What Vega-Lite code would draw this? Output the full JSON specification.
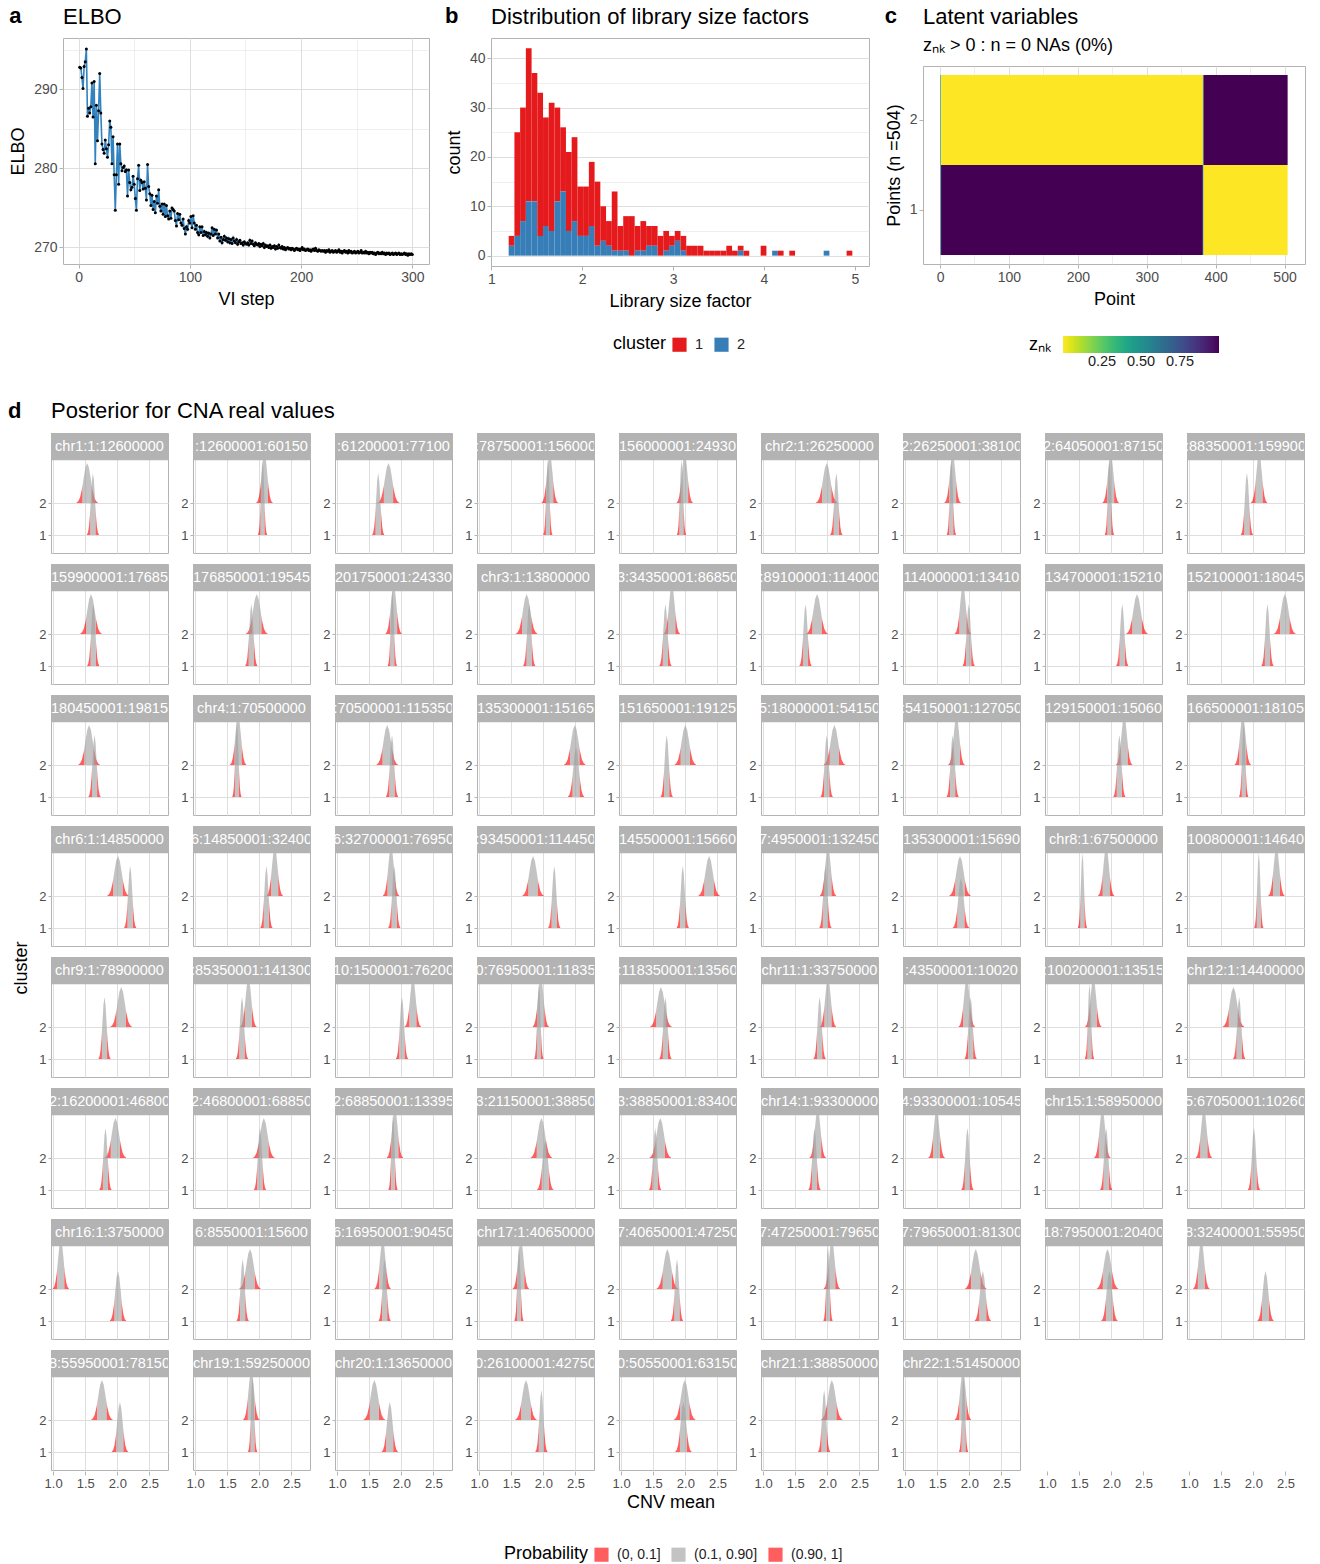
{
"$schema": "https://vega.github.io/schema/vega-lite/v6.json",
"background": "white",
"padding": {"left": 8, "top": 4, "right": 5, "bottom": 0},
"config": {
 "font": "Liberation Sans",
 "view": {"stroke": "#B3B3B3", "strokeWidth": 1},
 "axis": {"domain": false, "tickColor": "#B3B3B3", "tickSize": 4, "labelColor": "#4D4D4D", "labelFontSize": 14, "labelPadding": 2, "titleColor": "#000000", "titleFontSize": 18, "titleFontWeight": "normal", "titlePadding": 6, "gridColor": "#DEDEDE", "labelFlush": false, "labelOverlap": false},
 "legend": {"labelFontSize": 14.5, "labelColor": "#222222", "titleFontSize": 18, "titleFontWeight": "normal", "titleColor": "#000000"},
 "header": {"labels": false, "labelExpr": "''", "labelFontSize": 0, "labelPadding": 0},
 "title": {"color": "#000000", "subtitleColor": "#000000"}
},
"datasets": {
 "elbo": [
{"s":1,"e":292.8},{"s":2,"e":292.7},{"s":3,"e":291.5},{"s":4,"e":290.1},{"s":5,"e":292.9},{"s":6,"e":293.5},{"s":7,"e":295.1},{"s":8,"e":286.6},{"s":9,"e":287.6},{"s":10,"e":287.0},
{"s":11,"e":287.8},{"s":12,"e":290.8},{"s":13,"e":286.5},{"s":14,"e":291.0},{"s":15,"e":280.6},{"s":16,"e":288.0},{"s":17,"e":283.5},{"s":18,"e":287.3},{"s":19,"e":292.0},{"s":20,"e":287.0},
{"s":21,"e":283.1},{"s":22,"e":282.4},{"s":23,"e":281.9},{"s":24,"e":283.6},{"s":25,"e":282.5},{"s":26,"e":281.4},{"s":27,"e":283.0},{"s":28,"e":286.0},{"s":29,"e":285.2},{"s":30,"e":280.6},
{"s":31,"e":284.0},{"s":32,"e":279.2},{"s":33,"e":274.7},{"s":34,"e":279.2},{"s":35,"e":283.1},{"s":36,"e":278.0},{"s":37,"e":283.1},{"s":38,"e":280.6},{"s":39,"e":279.7},{"s":40,"e":280.1},
{"s":41,"e":280.3},{"s":42,"e":279.6},{"s":43,"e":279.8},{"s":44,"e":276.5},{"s":45,"e":279.8},{"s":46,"e":278.2},{"s":47,"e":277.3},{"s":48,"e":277.6},{"s":49,"e":279.0},{"s":50,"e":278.0},
{"s":51,"e":276.2},{"s":52,"e":274.7},{"s":53,"e":278.7},{"s":54,"e":280.4},{"s":55,"e":277.2},{"s":56,"e":278.5},{"s":57,"e":278.2},{"s":58,"e":277.4},{"s":59,"e":278.3},{"s":60,"e":277.5},
{"s":61,"e":276.0},{"s":62,"e":280.5},{"s":63,"e":277.7},{"s":64,"e":276.8},{"s":65,"e":275.3},{"s":66,"e":276.6},{"s":67,"e":274.8},{"s":68,"e":275.8},{"s":69,"e":274.4},{"s":70,"e":276.5},
{"s":71,"e":275.6},{"s":72,"e":277.3},{"s":73,"e":275.2},{"s":74,"e":274.6},{"s":75,"e":275.5},{"s":76,"e":274.2},{"s":77,"e":275.5},{"s":78,"e":273.9},{"s":79,"e":275.3},{"s":80,"e":274.0},
{"s":81,"e":273.6},{"s":82,"e":274.6},{"s":83,"e":273.7},{"s":84,"e":275.0},{"s":85,"e":274.8},{"s":86,"e":274.6},{"s":87,"e":273.4},{"s":88,"e":272.7},{"s":89,"e":274.3},{"s":90,"e":273.5},
{"s":91,"e":274.2},{"s":92,"e":273.1},{"s":93,"e":272.8},{"s":94,"e":273.6},{"s":95,"e":272.4},{"s":96,"e":271.7},{"s":97,"e":272.6},{"s":98,"e":272.3},{"s":99,"e":273.4},{"s":100,"e":273.1},
{"s":101,"e":273.9},{"s":102,"e":272.5},{"s":103,"e":274.0},{"s":104,"e":273.1},{"s":105,"e":272.3},{"s":106,"e":272.8},{"s":107,"e":271.9},{"s":108,"e":271.6},{"s":109,"e":272.6},{"s":110,"e":271.9},
{"s":111,"e":272.6},{"s":112,"e":271.5},{"s":113,"e":272.0},{"s":114,"e":271.6},{"s":115,"e":271.9},{"s":116,"e":271.4},{"s":117,"e":271.8},{"s":118,"e":271.2},{"s":119,"e":271.7},{"s":120,"e":272.5},
{"s":121,"e":271.5},{"s":122,"e":272.3},{"s":123,"e":271.7},{"s":124,"e":272.2},{"s":125,"e":271.2},{"s":126,"e":271.7},{"s":127,"e":270.8},{"s":128,"e":271.3},{"s":129,"e":270.6},{"s":130,"e":271.0},
{"s":131,"e":271.4},{"s":132,"e":270.9},{"s":133,"e":271.2},{"s":134,"e":270.7},{"s":135,"e":271.1},{"s":136,"e":270.6},{"s":137,"e":271.0},{"s":138,"e":270.5},{"s":139,"e":271.2},{"s":140,"e":270.8},
{"s":141,"e":270.6},{"s":142,"e":271.0},{"s":143,"e":270.4},{"s":144,"e":270.7},{"s":145,"e":270.9},{"s":146,"e":270.5},{"s":147,"e":270.6},{"s":148,"e":270.3},{"s":149,"e":270.7},{"s":150,"e":270.5},
{"s":151,"e":270.4},{"s":152,"e":270.6},{"s":153,"e":270.3},{"s":154,"e":270.9},{"s":155,"e":270.5},{"s":156,"e":270.8},{"s":157,"e":270.4},{"s":158,"e":270.2},{"s":159,"e":270.6},{"s":160,"e":270.4},
{"s":161,"e":270.3},{"s":162,"e":270.5},{"s":163,"e":270.1},{"s":164,"e":270.4},{"s":165,"e":270.2},{"s":166,"e":270.5},{"s":167,"e":270.0},{"s":168,"e":270.3},{"s":169,"e":270.1},{"s":170,"e":270.2},
{"s":171,"e":270.0},{"s":172,"e":270.3},{"s":173,"e":269.9},{"s":174,"e":270.1},{"s":175,"e":270.0},{"s":176,"e":270.2},{"s":177,"e":269.8},{"s":178,"e":270.1},{"s":179,"e":269.9},{"s":180,"e":270.3},
{"s":181,"e":270.0},{"s":182,"e":269.9},{"s":183,"e":270.1},{"s":184,"e":269.8},{"s":185,"e":270.0},{"s":186,"e":269.7},{"s":187,"e":269.9},{"s":188,"e":270.0},{"s":189,"e":269.8},{"s":190,"e":269.9},
{"s":191,"e":269.7},{"s":192,"e":269.9},{"s":193,"e":269.8},{"s":194,"e":269.6},{"s":195,"e":269.8},{"s":196,"e":269.9},{"s":197,"e":269.7},{"s":198,"e":269.8},{"s":199,"e":269.6},{"s":200,"e":269.8},
{"s":201,"e":270.0},{"s":202,"e":269.7},{"s":203,"e":269.8},{"s":204,"e":269.6},{"s":205,"e":269.7},{"s":206,"e":269.8},{"s":207,"e":269.6},{"s":208,"e":269.7},{"s":209,"e":269.5},{"s":210,"e":269.7},
{"s":211,"e":269.8},{"s":212,"e":269.6},{"s":213,"e":269.9},{"s":214,"e":269.6},{"s":215,"e":269.5},{"s":216,"e":269.7},{"s":217,"e":269.6},{"s":218,"e":269.5},{"s":219,"e":269.6},{"s":220,"e":269.5},
{"s":221,"e":269.6},{"s":222,"e":269.4},{"s":223,"e":269.6},{"s":224,"e":269.5},{"s":225,"e":269.7},{"s":226,"e":269.4},{"s":227,"e":269.5},{"s":228,"e":269.6},{"s":229,"e":269.4},{"s":230,"e":269.5},
{"s":231,"e":269.6},{"s":232,"e":269.4},{"s":233,"e":269.5},{"s":234,"e":269.7},{"s":235,"e":269.4},{"s":236,"e":269.5},{"s":237,"e":269.3},{"s":238,"e":269.5},{"s":239,"e":269.6},{"s":240,"e":269.4},
{"s":241,"e":269.5},{"s":242,"e":269.3},{"s":243,"e":269.6},{"s":244,"e":269.4},{"s":245,"e":269.5},{"s":246,"e":269.3},{"s":247,"e":269.4},{"s":248,"e":269.5},{"s":249,"e":269.3},{"s":250,"e":269.4},
{"s":251,"e":269.5},{"s":252,"e":269.3},{"s":253,"e":269.4},{"s":254,"e":269.6},{"s":255,"e":269.3},{"s":256,"e":269.4},{"s":257,"e":269.3},{"s":258,"e":269.5},{"s":259,"e":269.3},{"s":260,"e":269.4},
{"s":261,"e":269.2},{"s":262,"e":269.4},{"s":263,"e":269.3},{"s":264,"e":269.4},{"s":265,"e":269.2},{"s":266,"e":269.3},{"s":267,"e":269.1},{"s":268,"e":269.3},{"s":269,"e":269.4},{"s":270,"e":269.2},
{"s":271,"e":269.3},{"s":272,"e":269.2},{"s":273,"e":269.4},{"s":274,"e":269.2},{"s":275,"e":269.3},{"s":276,"e":269.1},{"s":277,"e":269.3},{"s":278,"e":269.2},{"s":279,"e":269.3},{"s":280,"e":269.1},
{"s":281,"e":269.2},{"s":282,"e":269.3},{"s":283,"e":269.1},{"s":284,"e":269.2},{"s":285,"e":269.3},{"s":286,"e":269.1},{"s":287,"e":269.2},{"s":288,"e":269.3},{"s":289,"e":269.1},{"s":290,"e":269.2},
{"s":291,"e":269.1},{"s":292,"e":269.2},{"s":293,"e":269.3},{"s":294,"e":269.1},{"s":295,"e":269.2},{"s":296,"e":269.0},{"s":297,"e":269.2},{"s":298,"e":269.1},{"s":299,"e":269.2},{"s":300,"e":269.1}
 ],
 "hist": [
{"b0":1.186,"b1":1.249,"k":"1","n":2},{"b0":1.186,"b1":1.249,"k":"2","n":2},
{"b0":1.249,"b1":1.312,"k":"1","n":21},{"b0":1.249,"b1":1.312,"k":"2","n":4},
{"b0":1.312,"b1":1.375,"k":"1","n":23},{"b0":1.312,"b1":1.375,"k":"2","n":7},
{"b0":1.375,"b1":1.438,"k":"1","n":31},{"b0":1.375,"b1":1.438,"k":"2","n":11},
{"b0":1.438,"b1":1.501,"k":"1","n":26},{"b0":1.438,"b1":1.501,"k":"2","n":11},
{"b0":1.501,"b1":1.564,"k":"1","n":29},{"b0":1.501,"b1":1.564,"k":"2","n":4},
{"b0":1.564,"b1":1.627,"k":"1","n":22},{"b0":1.564,"b1":1.627,"k":"2","n":6},
{"b0":1.627,"b1":1.690,"k":"1","n":26},{"b0":1.627,"b1":1.690,"k":"2","n":5},
{"b0":1.690,"b1":1.753,"k":"1","n":19},{"b0":1.690,"b1":1.753,"k":"2","n":11},
{"b0":1.753,"b1":1.816,"k":"1","n":13},{"b0":1.753,"b1":1.816,"k":"2","n":13},
{"b0":1.816,"b1":1.879,"k":"1","n":16},{"b0":1.816,"b1":1.879,"k":"2","n":5},
{"b0":1.879,"b1":1.942,"k":"1","n":17},{"b0":1.879,"b1":1.942,"k":"2","n":7},
{"b0":1.942,"b1":2.005,"k":"1","n":10},{"b0":1.942,"b1":2.005,"k":"2","n":4},
{"b0":2.005,"b1":2.068,"k":"1","n":10},{"b0":2.005,"b1":2.068,"k":"2","n":4},
{"b0":2.068,"b1":2.131,"k":"1","n":13},{"b0":2.068,"b1":2.131,"k":"2","n":6},
{"b0":2.131,"b1":2.194,"k":"1","n":13},{"b0":2.131,"b1":2.194,"k":"2","n":2},
{"b0":2.194,"b1":2.257,"k":"1","n":7},{"b0":2.194,"b1":2.257,"k":"2","n":3},
{"b0":2.257,"b1":2.320,"k":"1","n":5},{"b0":2.257,"b1":2.320,"k":"2","n":2},
{"b0":2.320,"b1":2.383,"k":"1","n":12},{"b0":2.320,"b1":2.383,"k":"2","n":1},
{"b0":2.383,"b1":2.446,"k":"1","n":5},{"b0":2.383,"b1":2.446,"k":"2","n":1},
{"b0":2.446,"b1":2.509,"k":"1","n":7},{"b0":2.446,"b1":2.509,"k":"2","n":1},
{"b0":2.509,"b1":2.572,"k":"1","n":8},
{"b0":2.572,"b1":2.635,"k":"1","n":5},{"b0":2.572,"b1":2.635,"k":"2","n":1},
{"b0":2.635,"b1":2.698,"k":"1","n":6},{"b0":2.635,"b1":2.698,"k":"2","n":1},
{"b0":2.698,"b1":2.761,"k":"1","n":4},{"b0":2.698,"b1":2.761,"k":"2","n":2},
{"b0":2.761,"b1":2.824,"k":"1","n":4},{"b0":2.761,"b1":2.824,"k":"2","n":2},
{"b0":2.824,"b1":2.887,"k":"1","n":4},
{"b0":2.887,"b1":2.950,"k":"1","n":4},{"b0":2.887,"b1":2.950,"k":"2","n":1},
{"b0":2.950,"b1":3.013,"k":"1","n":2},{"b0":2.950,"b1":3.013,"k":"2","n":2},
{"b0":3.013,"b1":3.076,"k":"1","n":2},{"b0":3.013,"b1":3.076,"k":"2","n":3},
{"b0":3.076,"b1":3.139,"k":"1","n":3},{"b0":3.076,"b1":3.139,"k":"2","n":1},
{"b0":3.139,"b1":3.202,"k":"1","n":2},
{"b0":3.202,"b1":3.265,"k":"1","n":2},
{"b0":3.265,"b1":3.328,"k":"1","n":2},
{"b0":3.328,"b1":3.391,"k":"1","n":1},
{"b0":3.391,"b1":3.454,"k":"1","n":1},
{"b0":3.454,"b1":3.517,"k":"1","n":1},
{"b0":3.517,"b1":3.580,"k":"1","n":1},
{"b0":3.580,"b1":3.643,"k":"1","n":2},
{"b0":3.643,"b1":3.706,"k":"1","n":1},
{"b0":3.706,"b1":3.769,"k":"1","n":1},{"b0":3.706,"b1":3.769,"k":"2","n":1},
{"b0":3.769,"b1":3.832,"k":"1","n":1},
{"b0":3.958,"b1":4.021,"k":"1","n":2},
{"b0":4.084,"b1":4.147,"k":"2","n":1},
{"b0":4.147,"b1":4.210,"k":"1","n":1},
{"b0":4.273,"b1":4.336,"k":"1","n":1},
{"b0":4.651,"b1":4.714,"k":"2","n":1},
{"b0":4.903,"b1":4.966,"k":"1","n":1}
 ],
 "lat": [
{"k":2,"x0":0.5,"x1":1.5,"z":0.45},{"k":2,"x0":1.5,"x1":381.5,"z":0},{"k":2,"x0":381.5,"x1":382.5,"z":0.55},{"k":2,"x0":382.5,"x1":504.5,"z":1},
{"k":1,"x0":0.5,"x1":1.5,"z":0.55},{"k":1,"x0":1.5,"x1":381.5,"z":1},{"k":1,"x0":381.5,"x1":382.5,"z":0.45},{"k":1,"x0":382.5,"x1":504.5,"z":0}
 ],
 "lab": [{"t": "cluster"}],
 "blank": [{"t": ""}],
 "cna": [
{"i":1,"s":"chr1:1:12600000","k":2,"m":1.53,"sd":0.06},{"i":1,"s":"chr1:1:12600000","k":1,"m":1.62,"sd":0.033},
{"i":2,"s":":12600001:60150","k":2,"m":2.08,"sd":0.045},{"i":2,"s":":12600001:60150","k":1,"m":2.05,"sd":0.024},
{"i":3,"s":":61200001:77100","k":2,"m":1.80,"sd":0.06},{"i":3,"s":":61200001:77100","k":1,"m":1.64,"sd":0.033},
{"i":4,"s":":78750001:156000","k":2,"m":2.10,"sd":0.045},{"i":4,"s":":78750001:156000","k":1,"m":2.07,"sd":0.024},
{"i":5,"s":"156000001:24930","k":2,"m":1.99,"sd":0.045},{"i":5,"s":"156000001:24930","k":1,"m":1.94,"sd":0.024},
{"i":6,"s":"chr2:1:26250000","k":2,"m":1.99,"sd":0.06},{"i":6,"s":"chr2:1:26250000","k":1,"m":2.14,"sd":0.033},
{"i":7,"s":"2:26250001:38100","k":2,"m":1.74,"sd":0.045},{"i":7,"s":"2:26250001:38100","k":1,"m":1.72,"sd":0.024},
{"i":8,"s":"2:64050001:87150","k":2,"m":1.99,"sd":0.045},{"i":8,"s":"2:64050001:87150","k":1,"m":1.97,"sd":0.024},
{"i":9,"s":":88350001:159900","k":2,"m":2.09,"sd":0.045},{"i":9,"s":":88350001:159900","k":1,"m":1.90,"sd":0.033},
{"i":10,"s":"159900001:17685","k":2,"m":1.59,"sd":0.06},{"i":10,"s":"159900001:17685","k":1,"m":1.625,"sd":0.033},
{"i":11,"s":"176850001:19545","k":2,"m":1.96,"sd":0.06},{"i":11,"s":"176850001:19545","k":1,"m":1.875,"sd":0.033},
{"i":12,"s":"201750001:24330","k":2,"m":1.88,"sd":0.045},{"i":12,"s":"201750001:24330","k":1,"m":1.86,"sd":0.024},
{"i":13,"s":"chr3:1:13800000","k":2,"m":1.74,"sd":0.06},{"i":13,"s":"chr3:1:13800000","k":1,"m":1.78,"sd":0.033},
{"i":14,"s":"3:34350001:86850","k":2,"m":1.79,"sd":0.045},{"i":14,"s":"3:34350001:86850","k":1,"m":1.69,"sd":0.033},
{"i":15,"s":":89100001:114000","k":2,"m":1.84,"sd":0.06},{"i":15,"s":":89100001:114000","k":1,"m":1.66,"sd":0.033},
{"i":16,"s":"114000001:13410","k":2,"m":1.90,"sd":0.045},{"i":16,"s":"114000001:13410","k":1,"m":1.99,"sd":0.033},
{"i":17,"s":"134700001:15210","k":2,"m":2.40,"sd":0.06},{"i":17,"s":"134700001:15210","k":1,"m":2.17,"sd":0.033},
{"i":18,"s":"152100001:18045","k":2,"m":2.49,"sd":0.06},{"i":18,"s":"152100001:18045","k":1,"m":2.22,"sd":0.033},
{"i":19,"s":"180450001:19815","k":2,"m":1.56,"sd":0.06},{"i":19,"s":"180450001:19815","k":1,"m":1.645,"sd":0.033},
{"i":20,"s":"chr4:1:70500000","k":2,"m":1.67,"sd":0.045},{"i":20,"s":"chr4:1:70500000","k":1,"m":1.65,"sd":0.024},
{"i":21,"s":":70500001:115350","k":2,"m":1.78,"sd":0.06},{"i":21,"s":":70500001:115350","k":1,"m":1.855,"sd":0.033},
{"i":22,"s":"135300001:15165","k":2,"m":2.49,"sd":0.06},{"i":22,"s":"135300001:15165","k":1,"m":2.51,"sd":0.045},
{"i":23,"s":"151650001:19125","k":2,"m":2.00,"sd":0.06},{"i":23,"s":"151650001:19125","k":1,"m":1.71,"sd":0.033},
{"i":24,"s":"5:18000001:54150","k":2,"m":2.11,"sd":0.06},{"i":24,"s":"5:18000001:54150","k":1,"m":1.99,"sd":0.033},
{"i":25,"s":":54150001:127050","k":2,"m":1.80,"sd":0.045},{"i":25,"s":":54150001:127050","k":1,"m":1.74,"sd":0.033},
{"i":26,"s":"129150001:15060","k":2,"m":2.20,"sd":0.045},{"i":26,"s":"129150001:15060","k":1,"m":2.125,"sd":0.033},
{"i":27,"s":"166500001:18105","k":2,"m":1.835,"sd":0.045},{"i":27,"s":"166500001:18105","k":1,"m":1.85,"sd":0.024},
{"i":28,"s":"chr6:1:14850000","k":2,"m":2.01,"sd":0.06},{"i":28,"s":"chr6:1:14850000","k":1,"m":2.20,"sd":0.033},
{"i":29,"s":"6:14850001:32400","k":2,"m":2.24,"sd":0.045},{"i":29,"s":"6:14850001:32400","k":1,"m":2.11,"sd":0.033},
{"i":30,"s":"6:32700001:76950","k":2,"m":1.84,"sd":0.045},{"i":30,"s":"6:32700001:76950","k":1,"m":1.89,"sd":0.033},
{"i":31,"s":":93450001:114450","k":2,"m":1.84,"sd":0.06},{"i":31,"s":":93450001:114450","k":1,"m":2.17,"sd":0.033},
{"i":32,"s":"145500001:15660","k":2,"m":2.37,"sd":0.06},{"i":32,"s":"145500001:15660","k":1,"m":1.96,"sd":0.033},
{"i":33,"s":"7:4950001:132450","k":2,"m":2.01,"sd":0.045},{"i":33,"s":"7:4950001:132450","k":1,"m":1.97,"sd":0.033},
{"i":34,"s":"135300001:15690","k":2,"m":1.855,"sd":0.06},{"i":34,"s":"135300001:15690","k":1,"m":1.87,"sd":0.045},
{"i":35,"s":"chr8:1:67500000","k":2,"m":1.92,"sd":0.045},{"i":35,"s":"chr8:1:67500000","k":1,"m":1.55,"sd":0.024},
{"i":36,"s":"100800001:14640","k":2,"m":2.36,"sd":0.045},{"i":36,"s":"100800001:14640","k":1,"m":2.085,"sd":0.024},
{"i":37,"s":"chr9:1:78900000","k":2,"m":2.06,"sd":0.06},{"i":37,"s":"chr9:1:78900000","k":1,"m":1.80,"sd":0.033},
{"i":38,"s":":85350001:141300","k":2,"m":1.83,"sd":0.045},{"i":38,"s":":85350001:141300","k":1,"m":1.73,"sd":0.033},
{"i":39,"s":"10:1500001:76200","k":2,"m":2.18,"sd":0.045},{"i":39,"s":"10:1500001:76200","k":1,"m":2.01,"sd":0.033},
{"i":40,"s":"0:76950001:11835","k":2,"m":1.96,"sd":0.045},{"i":40,"s":"0:76950001:11835","k":1,"m":1.93,"sd":0.024},
{"i":41,"s":":118350001:13560","k":2,"m":1.62,"sd":0.06},{"i":41,"s":":118350001:13560","k":1,"m":1.69,"sd":0.033},
{"i":42,"s":"chr11:1:33750000","k":2,"m":2.01,"sd":0.045},{"i":42,"s":"chr11:1:33750000","k":1,"m":1.88,"sd":0.033},
{"i":43,"s":":43500001:10020","k":2,"m":1.96,"sd":0.045},{"i":43,"s":":43500001:10020","k":1,"m":2.02,"sd":0.033},
{"i":44,"s":":100200001:13515","k":2,"m":1.72,"sd":0.045},{"i":44,"s":":100200001:13515","k":1,"m":1.66,"sd":0.024},
{"i":45,"s":"chr12:1:14400000","k":2,"m":1.69,"sd":0.06},{"i":45,"s":"chr12:1:14400000","k":1,"m":1.78,"sd":0.033},
{"i":46,"s":"2:16200001:46800","k":2,"m":1.97,"sd":0.06},{"i":46,"s":"2:16200001:46800","k":1,"m":1.815,"sd":0.033},
{"i":47,"s":"2:46800001:68850","k":2,"m":2.07,"sd":0.06},{"i":47,"s":"2:46800001:68850","k":1,"m":2.01,"sd":0.033},
{"i":48,"s":"2:68850001:13395","k":2,"m":1.90,"sd":0.045},{"i":48,"s":"2:68850001:13395","k":1,"m":1.87,"sd":0.024},
{"i":49,"s":"3:21150001:38850","k":2,"m":1.97,"sd":0.06},{"i":49,"s":"3:21150001:38850","k":1,"m":2.03,"sd":0.045},
{"i":50,"s":"3:38850001:83400","k":2,"m":1.61,"sd":0.06},{"i":50,"s":"3:38850001:83400","k":1,"m":1.53,"sd":0.033},
{"i":51,"s":"chr14:1:93300000","k":2,"m":1.85,"sd":0.045},{"i":51,"s":"chr14:1:93300000","k":1,"m":1.80,"sd":0.033},
{"i":52,"s":"4:93300001:10545","k":2,"m":1.49,"sd":0.045},{"i":52,"s":"4:93300001:10545","k":1,"m":1.97,"sd":0.033},
{"i":53,"s":"chr15:1:58950000","k":2,"m":1.86,"sd":0.045},{"i":53,"s":"chr15:1:58950000","k":1,"m":1.92,"sd":0.033},
{"i":54,"s":"5:67050001:10260","k":2,"m":1.23,"sd":0.045},{"i":54,"s":"5:67050001:10260","k":1,"m":2.01,"sd":0.033},
{"i":55,"s":"chr16:1:3750000","k":2,"m":1.12,"sd":0.045},{"i":55,"s":"chr16:1:3750000","k":1,"m":2.01,"sd":0.045},
{"i":56,"s":"6:8550001:15600","k":2,"m":1.855,"sd":0.06},{"i":56,"s":"6:8550001:15600","k":1,"m":1.74,"sd":0.033},
{"i":57,"s":"6:16950001:90450","k":2,"m":1.71,"sd":0.045},{"i":57,"s":"6:16950001:90450","k":1,"m":1.74,"sd":0.033},
{"i":58,"s":"chr17:1:40650000","k":2,"m":1.65,"sd":0.045},{"i":58,"s":"chr17:1:40650000","k":1,"m":1.62,"sd":0.024},
{"i":59,"s":"7:40650001:47250","k":2,"m":1.72,"sd":0.06},{"i":59,"s":"7:40650001:47250","k":1,"m":1.87,"sd":0.033},
{"i":60,"s":"7:47250001:79650","k":2,"m":2.07,"sd":0.045},{"i":60,"s":"7:47250001:79650","k":1,"m":2.01,"sd":0.024},
{"i":61,"s":"7:79650001:81300","k":2,"m":2.10,"sd":0.06},{"i":61,"s":"7:79650001:81300","k":1,"m":2.21,"sd":0.045},
{"i":62,"s":"18:7950001:20400","k":2,"m":1.94,"sd":0.06},{"i":62,"s":"18:7950001:20400","k":1,"m":1.97,"sd":0.045},
{"i":63,"s":"8:32400001:55950","k":2,"m":1.19,"sd":0.045},{"i":63,"s":"8:32400001:55950","k":1,"m":2.19,"sd":0.045},
{"i":64,"s":"8:55950001:78150","k":2,"m":1.76,"sd":0.06},{"i":64,"s":"8:55950001:78150","k":1,"m":2.04,"sd":0.045},
{"i":65,"s":"chr19:1:59250000","k":2,"m":1.875,"sd":0.045},{"i":65,"s":"chr19:1:59250000","k":1,"m":1.895,"sd":0.024},
{"i":66,"s":"chr20:1:13650000","k":2,"m":1.58,"sd":0.06},{"i":66,"s":"chr20:1:13650000","k":1,"m":1.82,"sd":0.045},
{"i":67,"s":"0:26100001:42750","k":2,"m":1.73,"sd":0.06},{"i":67,"s":"0:26100001:42750","k":1,"m":1.97,"sd":0.033},
{"i":68,"s":"0:50550001:63150","k":2,"m":1.99,"sd":0.06},{"i":68,"s":"0:50550001:63150","k":1,"m":1.97,"sd":0.045},
{"i":69,"s":"chr21:1:38850000","k":2,"m":2.07,"sd":0.06},{"i":69,"s":"chr21:1:38850000","k":1,"m":1.95,"sd":0.033},
{"i":70,"s":"chr22:1:51450000","k":2,"m":1.90,"sd":0.045},{"i":70,"s":"chr22:1:51450000","k":1,"m":1.91,"sd":0.024}
 ]
},
"resolve": {"scale": {"color": "independent", "shape": "independent"}, "legend": {"color": "independent"}},
"spacing": 29,
"vconcat": [
 {
  "spacing": 0,
  "resolve": {"scale": {"color": "independent"}, "legend": {"color": "independent"}},
  "hconcat": [
   {"data": {"name": "blank"}, "width": 1, "height": 1, "view": {"stroke": null}, "mark": {"type": "point", "size": 0, "opacity": 0, "strokeWidth": 0}},
   {
  "hconcat": [
   {
    "title": {"text": "a", "anchor": "start", "frame": "bounds", "fontSize": 22, "fontWeight": "bold", "offset": -24},
    "spacing": 0,
    "resolve": {"scale": {"color": "independent"}, "legend": {"color": "independent"}},
    "vconcat": [
     {"data": {"name": "blank"}, "width": 1, "height": 1, "view": {"stroke": null}, "mark": {"type": "point", "size": 0, "opacity": 0, "strokeWidth": 0}},
     {
      "data": {"name": "elbo"},
      "width": 366, "height": 226,
      "title": {"text": "ELBO", "anchor": "start", "frame": "group", "fontSize": 22, "fontWeight": "normal", "offset": 9},
      "encoding": {
       "x": {"field": "s", "type": "quantitative", "title": "VI step", "scale": {"domain": [-14, 315], "nice": false, "zero": false},
        "axis": {"values": [0,50,100,150,200,250,300], "labelExpr": "datum.value % 100 == 0 ? format(datum.value, 'd') : ''", "tickOpacity": {"condition": {"test": "datum.value % 100 != 0", "value": 0}, "value": 1}, "gridWidth": {"condition": {"test": "datum.value % 100 != 0", "value": 0.5}, "value": 1}}},
       "y": {"field": "e", "type": "quantitative", "title": "ELBO", "scale": {"domain": [267.9, 296.5], "nice": false, "zero": false},
        "axis": {"values": [270,275,280,285,290,295], "labelExpr": "datum.value % 10 == 0 ? format(datum.value, 'd') : ''", "tickOpacity": {"condition": {"test": "datum.value % 10 != 0", "value": 0}, "value": 1}, "gridWidth": {"condition": {"test": "datum.value % 10 != 0", "value": 0.5}, "value": 1}}}
      },
      "layer": [
       {"mark": {"type": "line", "color": "#3282BE", "strokeWidth": 1.6}},
       {"mark": {"type": "point", "filled": true, "color": "#000000", "size": 9, "opacity": 1}}
      ]
     }
    ]
   },
   {
    "title": {"text": "b", "anchor": "start", "frame": "bounds", "fontSize": 22, "fontWeight": "bold", "offset": -24},
    "spacing": 0,
    "resolve": {"scale": {"color": "independent"}, "legend": {"color": "independent"}},
    "vconcat": [
     {"data": {"name": "blank"}, "width": 1, "height": 1, "view": {"stroke": null}, "mark": {"type": "point", "size": 0, "opacity": 0, "strokeWidth": 0}},
     {
      "data": {"name": "hist"},
      "width": 378, "height": 228,
      "title": {"text": "Distribution of library size factors", "anchor": "start", "frame": "group", "fontSize": 22, "fontWeight": "normal", "offset": 9},
      "mark": {"type": "bar", "binSpacing": 0},
      "encoding": {
       "x": {"field": "b0", "bin": "binned", "type": "quantitative", "title": "Library size factor", "scale": {"domain": [0.997, 5.155], "nice": false, "zero": false},
        "axis": {"values": [1,1.5,2,2.5,3,3.5,4,4.5,5], "labelExpr": "datum.value % 1 == 0 ? format(datum.value, 'd') : ''", "tickOpacity": {"condition": {"test": "datum.value % 1 != 0", "value": 0}, "value": 1}, "gridWidth": {"condition": {"test": "datum.value % 1 != 0", "value": 0.5}, "value": 1}}},
       "x2": {"field": "b1"},
       "y": {"field": "n", "type": "quantitative", "stack": "zero", "title": "count", "scale": {"domain": [-2.1, 44.1], "nice": false, "zero": false},
        "axis": {"values": [0,5,10,15,20,25,30,35,40], "labelExpr": "datum.value % 10 == 0 ? format(datum.value, 'd') : ''", "tickOpacity": {"condition": {"test": "datum.value % 10 != 0", "value": 0}, "value": 1}, "gridWidth": {"condition": {"test": "datum.value % 10 != 0", "value": 0.5}, "value": 1}}},
       "color": {"field": "k", "type": "nominal", "title": "cluster", "scale": {"domain": ["1","2"], "range": ["#E41A1C", "#377EB8"]},
        "legend": {"orient": "none", "legendX": 122, "legendY": 299, "direction": "horizontal", "titleOrient": "left", "symbolType": "square", "symbolSize": 200, "symbolStrokeWidth": 0, "columnPadding": 10, "labelOffset": 8}},
       "order": {"field": "k", "sort": "descending"}
      }
     }
    ]
   },
   {
    "title": {"text": "c", "anchor": "start", "frame": "bounds", "fontSize": 22, "fontWeight": "bold", "offset": -24},
    "spacing": 0,
    "resolve": {"scale": {"color": "independent"}, "legend": {"color": "independent"}},
    "vconcat": [
     {"data": {"name": "blank"}, "width": 1, "height": 1, "view": {"stroke": null}, "mark": {"type": "point", "size": 0, "opacity": 0, "strokeWidth": 0}},
     {
      "data": {"name": "lat"},
      "width": 382, "height": 198,
      "title": {"text": "Latent variables", "subtitle": "zₙₖ  > 0 : n = 0  NAs (0%)", "anchor": "start", "frame": "group", "fontSize": 22, "fontWeight": "normal", "subtitleFontSize": 18, "subtitlePadding": 8, "offset": 10},
      "mark": {"type": "rect"},
      "encoding": {
       "x": {"field": "x0", "type": "quantitative", "title": "Point", "scale": {"domain": [-24.7, 529.7], "nice": false, "zero": false},
        "axis": {"values": [0,50,100,150,200,250,300,350,400,450,500], "labelExpr": "datum.value % 100 == 0 ? format(datum.value, 'd') : ''", "tickOpacity": {"condition": {"test": "datum.value % 100 != 0", "value": 0}, "value": 1}, "gridWidth": {"condition": {"test": "datum.value % 100 != 0", "value": 0.5}, "value": 1}}},
       "x2": {"field": "x1"},
       "y": {"field": "k", "type": "ordinal", "title": "Points (n =504)", "scale": {"domain": [2, 1], "paddingInner": 0, "paddingOuter": 0.1}, "axis": {"grid": false, "labelAngle": 0}},
       "color": {"field": "z", "type": "quantitative", "title": "zₙₖ", "scale": {"scheme": "viridis", "reverse": true, "domain": [0, 1]},
        "legend": {"orient": "none", "legendX": 106, "legendY": 270, "direction": "horizontal", "titleOrient": "left", "gradientLength": 156, "gradientThickness": 17, "values": [0.25, 0.5, 0.75], "format": ".2f", "titlePadding": 12}}
      }
     }
    ]
   }
  ],
  "spacing": 14,
  "resolve": {"scale": {"color": "independent"}, "legend": {"color": "independent"}}
   }
  ]
 },
 {
  "title": {"text": "d", "anchor": "start", "frame": "bounds", "fontSize": 22, "fontWeight": "bold", "offset": -23},
  "hconcat": [
   {
    "data": {"name": "lab"},
    "width": 28, "height": 1070,
    "view": {"stroke": null},
    "mark": {"type": "text", "angle": 270, "fontSize": 18, "color": "#000000"},
    "encoding": {"text": {"field": "t"}}
   },
   {
    "data": {"name": "cna"},
    "title": {"text": "Posterior for CNA real values", "anchor": "start", "frame": "group", "fontSize": 22, "fontWeight": "normal", "offset": 10},
    "facet": {"field": "s", "type": "nominal", "sort": {"field": "i", "op": "min"},
     "header": {"labels": false, "labelExpr": "''", "labelFontSize": 0, "labelPadding": 0, "title": "CNV mean", "titleOrient": "bottom", "titleFontSize": 18, "titleFontWeight": "normal", "titleColor": "#000000", "titlePadding": 4}},
    "columns": 9,
    "spacing": {"row": 9, "column": 11},
    "resolve": {"axis": {"y": "independent"}},
    "spec": {
     "width": 117, "height": 120,
     "resolve": {"scale": {"shape": "independent"}},
     "layer": [
      {
       "mark": {"type": "point", "filled": true, "opacity": 1, "size": 400, "strokeWidth": 0},
       "encoding": {
        "x": {"field": "m", "type": "quantitative", "title": null, "scale": {"domain": [0.967, 2.789], "nice": false, "zero": false},
         "axis": {"values": [1, 1.5, 2, 2.5], "format": ".1f", "labelFontSize": 13, "labelOverlap": false, "labelBound": false, "labelSeparation": 0}},
        "y": {"field": "k", "type": "quantitative", "title": null, "scale": {"domain": [0.44, 4.19], "nice": false, "zero": false},
         "axis": {"values": [1, 2], "format": "d", "labelFontSize": 13, "tickSize": 3}},
        "shape": {"field": "sd", "type": "nominal", "legend": null, "scale": {"domain": [0.024, 0.033, 0.045, 0.06], "range": [
         "M-0.45,0L-0.45,-0.08L-0.375,-0.33L-0.3,-1.01L-0.225,-2.44L-0.192,-3.3L-0.192,0Z M0.192,0L0.192,-3.3L0.225,-2.44L0.3,-1.01L0.375,-0.33L0.45,-0.08L0.45,0Z",
         "M-0.6,0L-0.6,-0.07L-0.5,-0.27L-0.4,-0.84L-0.3,-2.01L-0.256,-2.73L-0.256,0Z M0.256,0L0.256,-2.73L0.3,-2.01L0.4,-0.84L0.5,-0.27L0.6,-0.07L0.6,0Z",
         "M-0.81,0L-0.81,-0.06L-0.675,-0.22L-0.54,-0.68L-0.405,-1.62L-0.346,-2.2L-0.346,0Z M0.346,0L0.346,-2.2L0.405,-1.62L0.54,-0.68L0.675,-0.22L0.81,-0.06L0.81,0Z",
         "M-1.08,0L-1.08,-0.04L-0.9,-0.18L-0.72,-0.54L-0.54,-1.3L-0.461,-1.76L-0.461,0Z M0.461,0L0.461,-1.76L0.54,-1.3L0.72,-0.54L0.9,-0.18L1.08,-0.04L1.08,0Z"
        ]}},
        "color": {"datum": "(0, 0.1]", "title": "Probability",
         "scale": {"domain": ["(0, 0.1]", "(0.1, 0.90]", "(0.90, 1]"], "range": ["rgba(255,0,0,0.63)", "rgba(160,160,160,0.63)", "rgba(255,0,0,0.63)"]},
         "legend": {"orient": "none", "legendX": 453, "legendY": 1114, "direction": "horizontal", "titleOrient": "left", "symbolType": "square", "symbolSize": 200, "symbolStrokeWidth": 0, "labelFontSize": 14, "columnPadding": 10, "labelOffset": 8}}
       }
      },
      {
       "mark": {"type": "point", "filled": true, "opacity": 1, "size": 400, "strokeWidth": 0},
       "encoding": {
        "x": {"field": "m", "type": "quantitative", "title": null,
         "axis": {"values": [1, 1.5, 2, 2.5], "format": ".1f", "labelFontSize": 13, "labelOverlap": false, "labelBound": false, "labelSeparation": 0}},
        "y": {"field": "k", "type": "quantitative", "title": null,
         "axis": {"values": [1, 2], "format": "d", "labelFontSize": 13, "tickSize": 3}},
        "shape": {"field": "sd", "type": "nominal", "legend": null, "scale": {"domain": [0.024, 0.033, 0.045, 0.06], "range": [
         "M-0.192,0L-0.192,-3.3L-0.15,-4.55L-0.075,-6.62L0,-7.5L0.075,-6.62L0.15,-4.55L0.192,-3.3L0.192,0Z",
         "M-0.256,0L-0.256,-2.73L-0.2,-3.76L-0.1,-5.47L0,-6.2L0.1,-5.47L0.2,-3.76L0.256,-2.73L0.256,0Z",
         "M-0.346,0L-0.346,-2.2L-0.27,-3.03L-0.135,-4.41L0,-5L0.135,-4.41L0.27,-3.03L0.346,-2.2L0.346,0Z",
         "M-0.461,0L-0.461,-1.76L-0.36,-2.43L-0.18,-3.53L0,-4L0.18,-3.53L0.36,-2.43L0.461,-1.76L0.461,0Z"
        ]}},
        "color": {"datum": "(0.1, 0.90]"}
       }
      },
      {
       "transform": [{"filter": "datum.k == 1"}],
       "mark": {"type": "rect", "color": "#B3B3B3"},
       "encoding": {
        "x": {"datum": 0.967, "title": null, "axis": {"values": [1, 1.5, 2, 2.5], "format": ".1f", "labelFontSize": 13, "labelOverlap": false, "labelBound": false, "labelSeparation": 0}},
        "x2": {"datum": 2.789},
        "y": {"datum": 3.34, "title": null, "axis": {"values": [1, 2], "format": "d", "labelFontSize": 13, "tickSize": 3}},
        "y2": {"datum": 4.19}}
      },
      {
       "transform": [{"filter": "datum.k == 1"}],
       "mark": {"type": "text", "color": "#FFFFFF", "fontSize": 14.5, "clip": true},
       "encoding": {
        "x": {"datum": 1.878, "title": null, "axis": {"values": [1, 1.5, 2, 2.5], "format": ".1f", "labelFontSize": 13, "labelOverlap": false, "labelBound": false, "labelSeparation": 0}},
        "y": {"datum": 3.765, "title": null, "axis": {"values": [1, 2], "format": "d", "labelFontSize": 13, "tickSize": 3}},
        "text": {"field": "s"}}
      }
     ]
    }
   }
  ],
  "spacing": 2,
  "resolve": {"scale": {"color": "independent"}, "legend": {"color": "independent"}}
 }
]
}
